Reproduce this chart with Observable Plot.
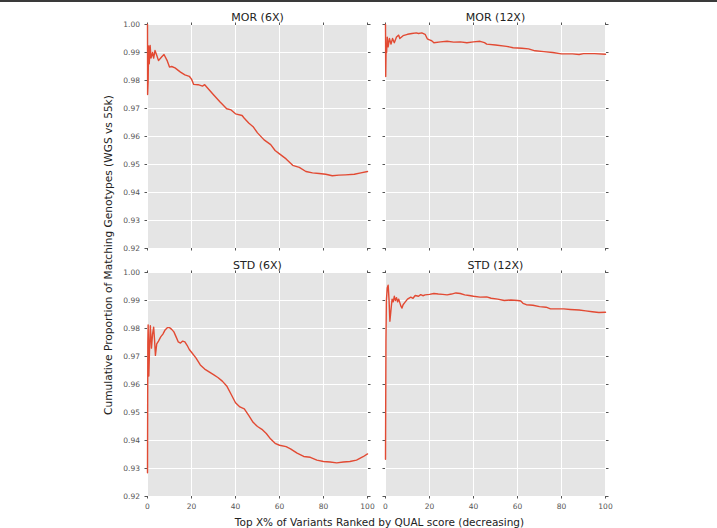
<!DOCTYPE html>
<html>
<head>
<meta charset="utf-8">
<script src="https://cdn.jsdelivr.net/npm/d3@7"></script>
<script src="https://cdn.jsdelivr.net/npm/@observablehq/plot@0.6"></script>
<style>
  html, body { margin: 0; padding: 0; background: white; }
  #wrap { position: relative; width: 717px; height: 528px; overflow: hidden; }
  #topline { position: absolute; left: 0; top: 0; width: 717px; height: 2px; background: #3a3a3a; }
</style>
</head>
<body>
<div id="wrap"><div id="chart"></div><div id="topline"></div></div>
<script>
// ---- data ----
const methods = ["MOR", "STD"];
const coverages = ["6X", "12X"];
const xTicks = [0, 20, 40, 60, 80, 100];
const yTicks = [0.92, 0.93, 0.94, 0.95, 0.96, 0.97, 0.98, 0.99, 1.00];
const xLabel = "Top X% of Variants Ranked by QUAL score (decreasing)";
const yLabel = "Cumulative Proportion of Matching Genotypes (WGS vs 55k)";

const mor6x_x = [0, 0.05, 0.3, 0.5, 0.8, 1.2, 1.6, 2.3, 2.8, 3.4, 4.2, 5, 6.5, 7.5, 9, 10, 11, 12.5, 15, 17, 19, 20, 21, 23, 25, 26, 28, 30, 33, 36, 38, 40, 43, 44, 46, 48, 50, 53, 56, 58, 60, 63, 66, 69, 72, 75, 78, 81, 84, 87, 90, 94, 97, 100];
const mor6x_y = [1.000, 0.975, 0.980, 0.9923, 0.986, 0.9925, 0.988, 0.990, 0.988, 0.9907, 0.989, 0.9871, 0.9885, 0.9893, 0.987, 0.9848, 0.985, 0.9845, 0.983, 0.982, 0.9815, 0.9805, 0.9786, 0.9785, 0.978, 0.9785, 0.9767, 0.9749, 0.9723, 0.9699, 0.9695, 0.9681, 0.9675, 0.9665, 0.9648, 0.9635, 0.9613, 0.9588, 0.9571, 0.955, 0.9538, 0.952, 0.9497, 0.949, 0.9475, 0.947, 0.9468, 0.9465, 0.946, 0.9462, 0.9463, 0.9465, 0.947, 0.9475];

const mor12x_x = [0, 0.1, 0.3, 0.5, 0.8, 1.2, 1.8, 2.5, 3.2, 4, 5, 6, 6.5, 8, 10, 12, 14, 15, 16.5, 18, 19, 20, 21, 22, 25, 28, 31, 34, 37, 40, 43, 45, 46, 50, 55, 58, 62, 65, 68, 72, 76, 80, 85, 88, 90, 95, 100];
const mor12x_y = [1.000, 0.9814, 0.993, 0.990, 0.9955, 0.992, 0.995, 0.993, 0.995, 0.9935, 0.9955, 0.9962, 0.995, 0.996, 0.9965, 0.9968, 0.997, 0.9968, 0.997, 0.9965, 0.9949, 0.9945, 0.9942, 0.9935, 0.9938, 0.994, 0.9937, 0.9938, 0.9935, 0.9938, 0.994, 0.9935, 0.993, 0.9927, 0.9922, 0.9917, 0.9915, 0.9913, 0.9906, 0.9903, 0.990, 0.9895, 0.9895, 0.9893, 0.9896, 0.9896, 0.9894];

const std6x_x = [0, 0.15, 0.3, 0.6, 1.0, 1.3, 1.8, 2.3, 2.8, 3.2, 3.6, 4.2, 5, 6, 7, 8, 9, 10, 11, 12, 13, 14, 15, 16, 17, 18, 19, 20, 22, 24, 26, 28, 30, 32, 34, 36, 38, 40, 42, 44, 46, 48, 50, 52, 54, 56, 58, 60, 63, 65, 68, 71, 74, 77, 80, 83, 86, 89, 92, 95, 98, 100];
const std6x_y = [0.9285, 0.975, 0.9813, 0.963, 0.975, 0.981, 0.973, 0.978, 0.9805, 0.976, 0.9704, 0.9745, 0.9755, 0.977, 0.978, 0.9795, 0.9803, 0.9803, 0.9797, 0.9788, 0.977, 0.9752, 0.9748, 0.9755, 0.9752, 0.974, 0.9725, 0.9715, 0.9695, 0.967, 0.9655, 0.9645, 0.9635, 0.9625, 0.9612, 0.9595, 0.9565, 0.9535, 0.952, 0.9513, 0.949, 0.9465, 0.945, 0.944, 0.9425, 0.9405, 0.939, 0.9383, 0.9378, 0.937, 0.9355, 0.9343, 0.934, 0.933, 0.9325, 0.9323, 0.932, 0.9323, 0.9325, 0.933, 0.9342, 0.9352];

const std12x_x = [0, 0.2, 0.4, 0.8, 1.2, 1.6, 2.0, 2.6, 3.0, 3.5, 4, 4.5, 5, 5.5, 6, 7, 7.5, 8, 9, 10, 11.5, 12.5, 13.5, 15, 16, 17, 18, 20, 22, 24, 26, 28, 30, 32, 34, 36, 38, 40, 43, 46, 48, 51, 54, 57, 60, 61.5, 62.5, 64, 67, 70, 73, 75, 78, 81, 84, 88, 91, 94, 97, 100];
const std12x_y = [0.9333, 0.975, 0.990, 0.9945, 0.9955, 0.9905, 0.9826, 0.9875, 0.9905, 0.9895, 0.9915, 0.990, 0.991, 0.9895, 0.9905, 0.988, 0.9873, 0.9885, 0.9895, 0.9905, 0.9912, 0.9908, 0.9918, 0.9915, 0.9921, 0.9917, 0.992, 0.9922, 0.9925, 0.9923, 0.9922, 0.992, 0.9923, 0.9927, 0.9925, 0.992, 0.9918, 0.9915, 0.9912, 0.9913, 0.9908, 0.9905, 0.990, 0.9902, 0.990, 0.9898, 0.989, 0.9885, 0.9883, 0.9878, 0.9876, 0.987, 0.987, 0.987, 0.9868, 0.9866, 0.9863, 0.986, 0.9857, 0.9858];

// ---- build table ----
const series = [
  {method: "MOR", cov: "6X", xs: mor6x_x, ys: mor6x_y},
  {method: "MOR", cov: "12X", xs: mor12x_x, ys: mor12x_y},
  {method: "STD", cov: "6X", xs: std6x_x, ys: std6x_y},
  {method: "STD", cov: "12X", xs: std12x_x, ys: std12x_y}
];
const rows = series.flatMap(s => s.xs.map((x, i) => ({method: s.method, cov: s.cov, x, y: s.ys[i]})));
const panels = series.map(s => ({method: s.method, cov: s.cov, title: `${s.method} (${s.cov})`}));

const W = 717, H = 528;
const mL = 147, mR = 112, mT = 24, mB = 32;
const tickCol = "#555555";

const svg = Plot.plot({
  width: W,
  height: H,
  marginLeft: mL,
  marginRight: mR,
  marginTop: mT,
  marginBottom: mB,
  style: {fontFamily: "DejaVu Sans, sans-serif", background: "white", overflow: "visible"},
  fx: {domain: coverages, paddingInner: 18 / 238, paddingOuter: 0, axis: null, label: null},
  fy: {domain: methods, paddingInner: 24 / 248, paddingOuter: 0, axis: null, label: null},
  x: {domain: [0, 100], label: null},
  y: {domain: [0.92, 1.0], label: null},
  marks: [
    Plot.frame({fill: "#e5e5e5", stroke: null}),
    Plot.gridX(xTicks, {stroke: "white", strokeOpacity: 1, strokeWidth: 1}),
    Plot.gridY(yTicks, {stroke: "white", strokeOpacity: 1, strokeWidth: 1}),
    Plot.axisX(xTicks, {anchor: "bottom", tickSize: 2.5, text: null, label: null, facetAnchor: null, stroke: tickCol}),
    Plot.axisX(xTicks, {anchor: "top", tickSize: 2.5, text: null, label: null, facetAnchor: null, stroke: tickCol}),
    Plot.axisY(yTicks, {anchor: "left", tickSize: 2.5, text: null, label: null, facetAnchor: null, stroke: tickCol}),
    Plot.axisY(yTicks, {anchor: "right", tickSize: 2.5, text: null, label: null, facetAnchor: null, stroke: tickCol}),
    Plot.axisX(xTicks, {anchor: "bottom", tickSize: 0, tickPadding: 7, label: null, fill: tickCol, fontSize: 7.5, tickFormat: d => String(d)}),
    Plot.axisY(yTicks, {anchor: "left", tickSize: 0, tickPadding: 7.5, label: null, fill: tickCol, fontSize: 7.5, tickFormat: d3.format(".2f")}),
    Plot.line(rows, {x: "x", y: "y", fx: "cov", fy: "method", stroke: "#E24A33", strokeWidth: 1.4, curve: "linear"}),
    Plot.text(panels, {fx: "cov", fy: "method", text: "title", frameAnchor: "top", lineAnchor: "middle", dy: -7, fontSize: 11, fill: "#222"})
  ]
});

const s = d3.select(svg);
s.append("text")
  .attr("x", 379.5)
  .attr("y", 526)
  .attr("text-anchor", "middle")
  .attr("font-size", 10.5)
  .attr("fill", "#222")
  .text(xLabel);
s.append("text")
  .attr("transform", "translate(111.5,255) rotate(-90)")
  .attr("text-anchor", "middle")
  .attr("font-size", 10.6)
  .attr("fill", "#222")
  .text(yLabel);

document.getElementById("chart").appendChild(svg);
</script>
</body>
</html>
